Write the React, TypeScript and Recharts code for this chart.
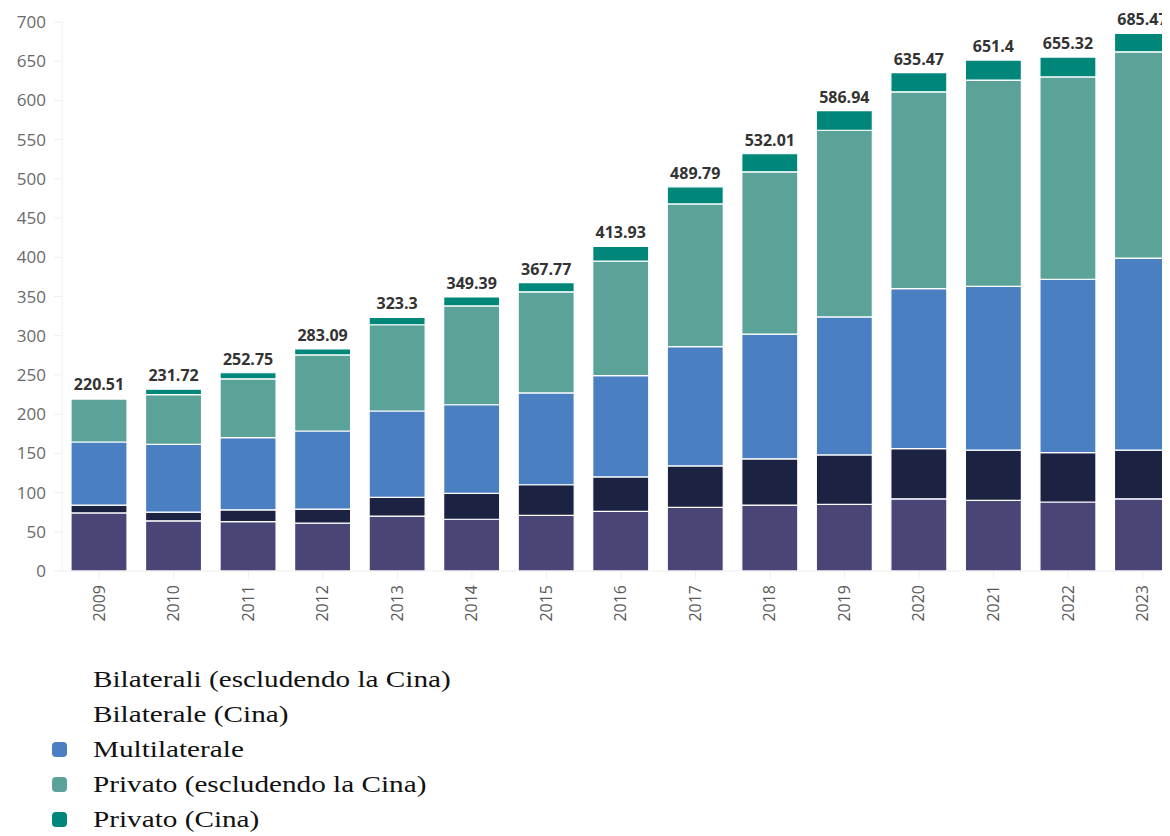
import { Bar, BarChart, LabelList, XAxis, YAxis } from "recharts";

const years = ["2009", "2010", "2011", "2012", "2013", "2014", "2015", "2016", "2017", "2018", "2019", "2020", "2021", "2022", "2023"];
const bilateralExChina = [74, 64, 63, 61, 70, 66, 71, 76, 81, 84, 85, 92, 90, 88, 92];
const bilateralChina = [10, 11, 15, 18, 24, 33, 39, 44, 53, 59, 63, 64, 64, 63, 62];
const multilateral = [80.5, 86.5, 92, 99.5, 110, 113, 117, 129, 152, 159, 176, 204, 209, 221, 245];
const privateExChina = [55, 63.5, 75, 97, 110, 126, 129, 146, 182, 207, 238, 251, 263, 258, 263];
const privateChina = [1.01, 6.72, 7.75, 7.59, 9.3, 11.39, 11.77, 18.93, 21.79, 23.01, 24.94, 24.47, 25.4, 25.32, 23.47];
const totals = [220.51, 231.72, 252.75, 283.09, 323.3, 349.39, 367.77, 413.93, 489.79, 532.01, 586.94, 635.47, 651.4, 655.32, 685.47];
const yTicks = [0, 50, 100, 150, 200, 250, 300, 350, 400, 450, 500, 550, 600, 650, 700];

const series = [
  { key: "bilEx", name: "Bilaterali (escludendo la Cina)", color: "#4A4577", showIcon: false },
  { key: "bilCn", name: "Bilaterale (Cina)", color: "#1B2242", showIcon: false },
  { key: "multi", name: "Multilaterale", color: "#4A7FC1", showIcon: true },
  { key: "privEx", name: "Privato (escludendo la Cina)", color: "#5BA398", showIcon: true },
  { key: "privCn", name: "Privato (Cina)", color: "#00877A", showIcon: true },
];

const data = years.map((year, i) => ({
  year,
  bilEx: bilateralExChina[i],
  bilCn: bilateralChina[i],
  multi: multilateral[i],
  privEx: privateExChina[i],
  privCn: privateChina[i],
  total: totals[i],
}));

const tickFont = "'Open Sans', sans-serif";

export default function App() {
  return (
    <div style={{ width: 1162, overflow: "hidden" }}>
      <BarChart
        width={1172}
        height={630}
        data={data}
        margin={{ top: 14, right: 0, left: 0, bottom: 0 }}
      >
        <YAxis
          width={54}
          domain={[0, 700]}
          ticks={yTicks}
          interval={0}
          axisLine={{ stroke: "#eeeeee" }}
          tickLine={{ stroke: "#eeeeee" }}
          tickSize={8}
          tickMargin={8}
          tick={{ fill: "#6a6a6a", fontSize: 17, fontFamily: tickFont }}
        />
        <XAxis
          dataKey="year"
          height={67}
          interval={0}
          axisLine={{ stroke: "#eeeeee" }}
          tickLine={{ stroke: "#eeeeee" }}
          tickSize={8}
          tickMargin={6}
          angle={-90}
          textAnchor="end"
          dx={-6}
          tick={{ fill: "#5a5a5a", fontSize: 16, fontFamily: tickFont }}
        />
        {series.map((s, idx) => (
          <Bar
            key={s.key}
            dataKey={s.key}
            name={s.name}
            stackId="a"
            fill={s.color}
            stroke="#ffffff"
            strokeWidth={1.2}
            barSize={56}
            isAnimationActive={false}
          >
            {idx === series.length - 1 && (
              <LabelList
                dataKey="total"
                position="top"
                offset={8}
                style={{ fill: "#333333", fontSize: 16, fontWeight: 700, fontFamily: tickFont }}
              />
            )}
          </Bar>
        ))}
      </BarChart>
      <div
        style={{
          marginTop: 24,
          fontFamily: "'Liberation Serif', 'Times New Roman', serif",
          fontSize: 23,
          lineHeight: "35px",
          color: "#111111",
        }}
      >
        {series.map((s) => (
          <div key={s.key} style={{ display: "flex", alignItems: "center" }}>
            <span
              style={{
                display: "inline-block",
                width: 15,
                height: 15,
                borderRadius: 4,
                marginLeft: 44,
                marginRight: 26,
                background: s.showIcon ? s.color : "transparent",
              }}
            />
            <span style={{ display: "inline-block", transform: "scaleX(1.27)", transformOrigin: "left center" }}>
              {s.name}
            </span>
          </div>
        ))}
      </div>
    </div>
  );
}
